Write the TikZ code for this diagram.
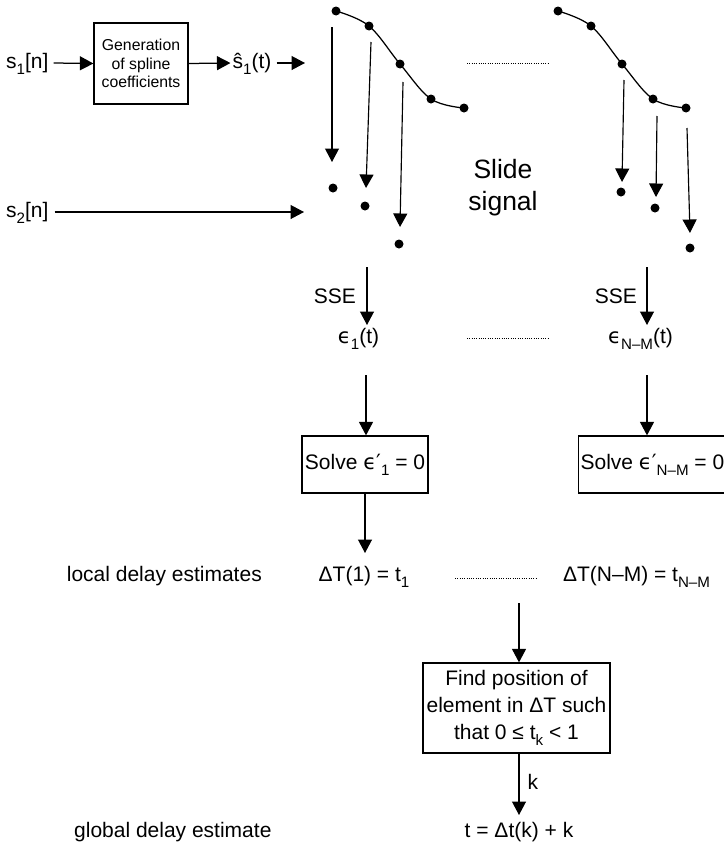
\documentclass[tikz,border=0pt]{standalone}
\usepackage{fontspec}
\setmainfont{Liberation Sans}
\newfontfamily\dvf{DejaVu Sans}
\usetikzlibrary{arrows.meta}
\newcommand\lo[1]{\raisebox{-0.28em}{\scalebox{0.72}{#1}}}
\newcommand\eps{{\dvf ϵ}}
\newcommand\epsp{{\dvf ϵ′}}
\begin{document}
\begin{tikzpicture}[x=1pt,y=-1pt,
  txt/.style={inner sep=0pt, font=\fontsize{21}{25}\selectfont, text height=15.3pt, text depth=4.4pt},
  box/.style={draw, line width=1.25pt, inner sep=0pt, align=center},
  dot/.style={circle, fill, inner sep=0pt, minimum size=9pt},
  arr/.style={line width=1.25pt, -{Triangle[length=13.5pt,width=14pt]}},
  dotline/.style={line width=0.9pt, dash pattern=on 1pt off 1.3pt},
  curve/.style={line width=1.25pt}]
\useasboundingbox (0,0) rectangle (723,846);

% --- top row
\node[txt, anchor=west] (s1) at (6,63) {s\lo{1}[n]};
\node[box, minimum width=94pt, minimum height=81pt, font=\fontsize{15.8}{18.5}\selectfont] (gen) at (141,63.5) {Generation\\of spline\\coefficients};
\node[txt] (s1h) at (252,63) {ŝ\lo{1}(t)};
\coordinate (in1) at (305,63);
\draw[arr] ([xshift=5pt]s1.east) -- (gen.west);
\draw[arr] (gen.east) -- ([xshift=-2pt]s1h.west);
\draw[arr] ([xshift=5pt]s1h.east) -- (in1);

\node[txt, anchor=west] (s2) at (6,212) {s\lo{2}[n]};
\coordinate (in2) at (304,212);
\draw[arr] ([xshift=6pt]s2.east) -- (in2);

% --- spline points
\foreach \i/\x/\y in {1/336/11, 2/369/26, 3/400/64, 4/431/99, 5/464/108}{
  \node[dot] (p\i) at (\x,\y) {};
  \node[dot] (q\i) at (\x+222,\y) {};
}
\draw[curve] plot[smooth, tension=0.6] coordinates {(p1) (p2) (p3) (p4) (p5)};
\draw[curve] plot[smooth, tension=0.6] coordinates {(q1) (q2) (q3) (q4) (q5)};
\draw[dotline] (467,63) -- (549,63);

% lower (slid) points
\node[dot] (l1) at (333,188) {};
\node[dot] (l2) at (365,206) {};
\node[dot] (l3) at (399,244) {};
\node[dot] (r1) at (621,192) {};
\node[dot] (r2) at (655,208) {};
\node[dot] (r3) at (690,248) {};

\coordinate (a1s) at (332,27);  \coordinate (a1e) at (332,162);
\coordinate (a2s) at (371,42);  \coordinate (a2e) at (366,188);
\coordinate (a3s) at (403,82);  \coordinate (a3e) at (400,227);
\coordinate (b1s) at (624,80);  \coordinate (b1e) at (622,182);
\coordinate (b2s) at (657,116); \coordinate (b2e) at (656,197);
\coordinate (b3s) at (687,128); \coordinate (b3e) at (690,233);
\foreach \a in {a1,a2,a3,b1,b2,b3}{\draw[arr, line width=1.15pt] (\a s) -- (\a e);}

\node[inner sep=0pt, align=center, font=\fontsize{26.5}{32}\selectfont] (slide) at (503,188) {Slide\\signal};

% --- SSE
\coordinate (c1) at (367,267); \coordinate (c1e) at (367,325);
\coordinate (c2) at (647,267); \coordinate (c2e) at (647,325);
\draw[arr] (c1) -- (c1e);
\draw[arr] (c2) -- (c2e);
\node[txt, anchor=east] (sse1) at (356,298) {SSE};
\node[txt, anchor=east] (sse2) at (637,298) {SSE};
\node[txt] (e1) at (358.5,338) {\eps\lo{1}(t)};
\node[txt] (e2) at (640.5,338) {\eps\lo{N–M}(t)};
\draw[dotline] (467,338) -- (548,338);

% --- solve boxes
\node[box, minimum width=126pt, minimum height=57pt, txt] (sv1) at (365,464.5) {Solve \epsp\lo{1} = 0};
\node[box, minimum height=57pt, txt, inner xsep=2pt, anchor=west] (sv2) at (578,464.5) {Solve \epsp\lo{N–M} = 0};
\coordinate (d1) at (366,375);
\coordinate (d2) at (647,375);
\draw[arr] (d1) -- (d1 |- sv1.north);
\draw[arr] (d2) -- (d2 |- sv2.north);

% --- local delay estimates
\node[txt, anchor=east] (lde) at (262,576) {local delay estimates};
\node[txt] (dt1) at (364,576) {ΔT(1) = t\lo{1}};
\node[txt] (dt2) at (636.5,576) {ΔT(N–M) = t\lo{N–M}};
\draw[dotline] (455,578) -- (537,578);
\coordinate (dt1e) at (365,553);
\draw[arr] (sv1.south -| dt1e) -- (dt1e);

% --- find box
\coordinate (f0) at (519,603);
\node[box, minimum width=187pt, minimum height=90pt, font=\fontsize{21}{27}\selectfont] (find) at (516.5,708) {Find position of\\element in ΔT such\\that 0 ≤ t\lo{k} < 1};
\draw[arr] (f0) -- (f0 |- find.north);
\coordinate (fe) at (519,815);
\draw[arr] (find.south -| fe) -- (fe) node[pos=0.5, right=8pt, txt] (klab) {k};
\node[txt] (res) at (519,832) {t = Δt(k) + k};
\node[txt, anchor=west] (gde) at (74,832) {global delay estimate};
\end{tikzpicture}
\end{document}
